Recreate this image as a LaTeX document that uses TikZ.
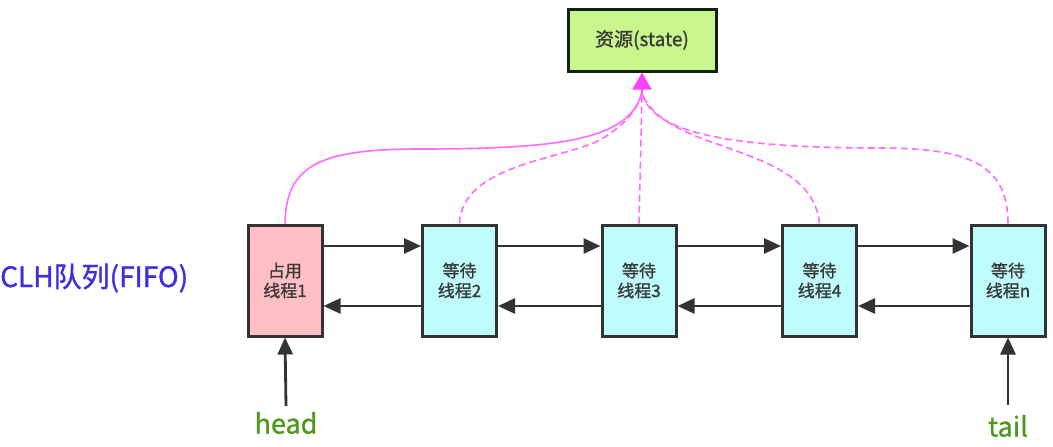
\documentclass[tikz,border=0pt]{standalone}
\usepackage{fontspec}
\setmainfont{Noto Sans CJK SC}[FakeBold=1.2]
\usetikzlibrary{arrows.meta}
\definecolor{boxline}{HTML}{333333}
\definecolor{pinkfill}{HTML}{FFBFC4}
\definecolor{cyanfill}{HTML}{BFFCFC}
\definecolor{greenfill}{HTML}{C8F58C}
\definecolor{mag}{HTML}{FF6BFF}
\definecolor{magtip}{HTML}{FF40FF}
\definecolor{txt}{HTML}{3A3A3A}
\definecolor{headgreen}{HTML}{4E9A1E}
\definecolor{clhblue}{HTML}{3B2FE0}
\tikzset{
  thread/.style={draw=boxline, line width=3pt, minimum width=74pt, minimum height=111pt,
     inner sep=0pt, align=center, font=\fontsize{17}{20}\selectfont, text=txt},
  resbox/.style={draw=boxline!80!green!40!black, line width=3pt, fill=greenfill, minimum width=148pt,
     minimum height=62pt, inner sep=0pt, font=\fontsize{19}{22}\selectfont, text=txt},
  link/.style={draw=boxline, line width=2.8pt, -{Triangle[length=17pt,width=15pt]}},
  held/.style={draw=mag, line width=1.6pt},
  waits/.style={draw=mag, line width=1.6pt, dash pattern=on 7pt off 4pt},
}
\begin{document}
\begin{tikzpicture}[x=1pt,y=-1pt]
\useasboundingbox (0,0) rectangle (1053,447);
\node[resbox] (res) at (642,40) {资源(state)};
\node[thread, fill=pinkfill] (t1) at (285,280.5) {占用\\线程1};
\node[thread, fill=cyanfill] (t2) at (459.5,280.5) {等待\\线程2};
\node[thread, fill=cyanfill] (t3) at (639,280.5) {等待\\线程3};
\node[thread, fill=cyanfill] (t4) at (819.5,280.5) {等待\\线程4};
\node[thread, fill=cyanfill] (tn) at (1008,280.5) {等待\\线程n};
\node[text=clhblue, font=\fontsize{28}{32}\selectfont, anchor=west, inner sep=0pt] (clh) at (0,278) {CLH队列(FIFO)};
\node[text=headgreen, font=\fontsize{27}{30}\selectfont] (head) at (286,423) {head};
\node[text=headgreen, font=\fontsize{27}{30}\selectfont] (tail) at (1008,426) {tail};
\coordinate (conv) at (642,92);
\coordinate (hs) at (286,406);
\coordinate (ts) at (1008,405);
% forward / backward links
\foreach \a/\b in {t1/t2,t2/t3,t3/t4,t4/tn}{
  \draw[link] ([yshift=34.5pt]\a.east) -- ([yshift=34.5pt]\b.west);
  \draw[link] ([yshift=-25.5pt]\b.west) -- ([yshift=-25.5pt]\a.east);
}
\draw[link] (hs) -- (t1.south);
\draw[link] (ts) -- (tn.south);
% curves to resource
\draw[held] (t1.north) .. controls (286,165) and (320,149) .. (420,149)
   .. controls (560,149) and (630,140) .. (conv);
\draw[waits] (t2.north) .. controls (462,165) and (560,160) .. (600,140)
   .. controls (625,125) and (638,110) .. (conv);
\draw[waits] (t3.north) -- (conv);
\draw[waits] (t4.north) .. controls (815,175) and (760,160) .. (720,145)
   .. controls (680,132) and (648,115) .. (conv);
\draw[waits] (tn.north) .. controls (1008,165) and (970,148) .. (880,148)
   .. controls (740,148) and (650,135) .. (conv);
\draw[magtip, line width=1.6pt, -{Triangle[length=17pt,width=19pt]}] (conv) -- (res.south);
\end{tikzpicture}
\end{document}
